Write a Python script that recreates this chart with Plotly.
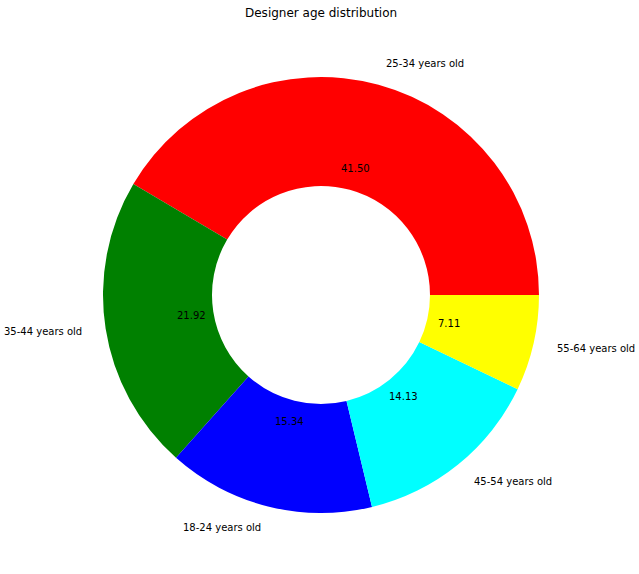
import math
import plotly.graph_objects as go

labels = ["25-34 years old", "35-44 years old", "18-24 years old", "45-54 years old", "55-64 years old"]
values = [41.50, 21.92, 15.34, 14.13, 7.11]
colors = ["#ff0000", "#008000", "#0000ff", "#00ffff", "#ffff00"]
title = "Designer age distribution"

W, H = 639, 574
cx, cy, R = 321, 295, 218
total = sum(values)

fig = go.Figure(go.Pie(
    labels=labels, values=values, hole=0.5, sort=False,
    direction="counterclockwise", rotation=90 - values[0] / total * 360.0,
    marker=dict(colors=colors, line=dict(width=0)),
    textinfo="none", hoverinfo="label+value", showlegend=False,
    domain=dict(x=[(cx - R) / W, (cx + R) / W], y=[(H - cy - R) / H, (H - cy + R) / H]),
))

ann = []
start = 0.0
for lab, v in zip(labels, values):
    mid = math.radians(start + v / total * 180.0)
    start += v / total * 360.0
    c, s = math.cos(mid), math.sin(mid)
    lx, ly = cx + 1.1 * R * c, cy - 1.1 * R * s
    ann.append(dict(x=lx / W, y=1 - ly / H, xref="paper", yref="paper", text=lab,
                    showarrow=False, xanchor="left" if c > 0 else "right", yanchor="middle",
                    font=dict(size=10, color="black", family="DejaVu Sans")))
    px, py = cx + 0.6 * R * c, cy - 0.6 * R * s
    ann.append(dict(x=px / W, y=1 - py / H, xref="paper", yref="paper", text=f"{v:.2f}",
                    showarrow=False, xanchor="center", yanchor="middle",
                    font=dict(size=10, color="black", family="DejaVu Sans")))

ann.append(dict(x=cx / W, y=1 - 13 / H, xref="paper", yref="paper", text=title,
                showarrow=False, xanchor="center", yanchor="middle",
                font=dict(size=12, color="black", family="DejaVu Sans")))

fig.update_layout(width=W, height=H, margin=dict(l=0, r=0, t=0, b=0),
                  paper_bgcolor="white", plot_bgcolor="white", annotations=ann)
fig.write_html("out.html", config={"displayModeBar": False},
               post_script="document.body.style.margin='0';document.body.style.overflow='hidden';")
